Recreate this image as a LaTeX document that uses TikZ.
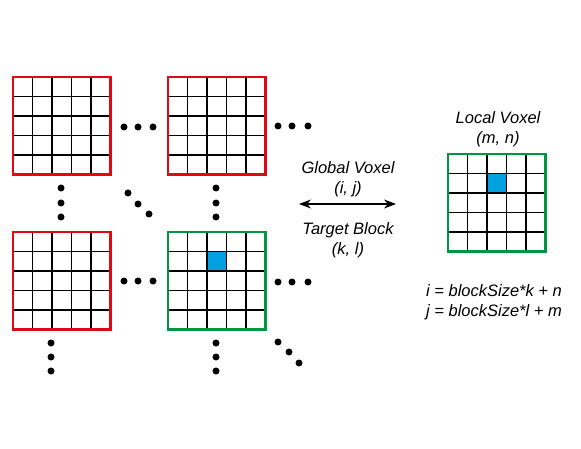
\documentclass[tikz,border=0pt]{standalone}
\usepackage{fontspec}
\setmainfont{Liberation Sans}
\usetikzlibrary{arrows.meta,calc}
\definecolor{blockred}{RGB}{227,6,19}
\definecolor{blockgreen}{RGB}{0,150,64}
\definecolor{voxelblue}{RGB}{0,160,227}

\begin{document}
\begin{tikzpicture}[x=1pt, y=-1pt,
    every node/.style={font=\fontsize{16.5}{20}\selectfont\itshape},
    gridline/.style={black, line width=1.1pt},
    block/.style={draw=#1, line width=2.2pt, rectangle, minimum size=97.5pt,
        inner sep=0pt, outer sep=0pt, anchor=north west,
        path picture={
            \foreach \k in {1,...,4} {
                \draw[gridline] ($(path picture bounding box.north west)!\k/5!(path picture bounding box.north east)$)
                    -- ($(path picture bounding box.south west)!\k/5!(path picture bounding box.south east)$);
                \draw[gridline] ($(path picture bounding box.north west)!\k/5!(path picture bounding box.south west)$)
                    -- ($(path picture bounding box.north east)!\k/5!(path picture bounding box.south east)$);
            }
        }},
    voxel/.style={draw=black, line width=1.1pt, fill=voxelblue, minimum size=19.5pt, inner sep=0pt}]

    \useasboundingbox (0,0) rectangle (581,449);

    % Global grid of blocks
    \node[block=blockred] (b11) at (13,77) {};
    \node[block=blockred] (b12) at (168,77) {};
    \node[block=blockred] (b21) at (13,232) {};
    \node[block=blockgreen] (b22) at (168,232) {};

    % Local block
    \node[block=blockgreen] (local) at (448,154) {};

    % Selected voxels
    \node[voxel] (target) at ($(b22.north west)+(48.75,29.25)$) {};
    \node[voxel] (localvox) at ($(local.north west)+(48.75,29.25)$) {};

    % Ellipsis dots
    \foreach \p in {(124,127),(138,127),(153,127),(278,126),(292,126),(308,126),
                    (124,281),(138,281),(153,281),(278,282),(292,282),(308,282),
                    (61,188),(61,203),(61,217),(216,188),(216,203),(216,217),
                    (128,193),(138,204),(149,214),
                    (51,343),(51,357),(51,371),(216,343),(216,357),(216,371),
                    (278,342),(289,352),(299,363)}
        \fill[black] \p circle[radius=3.5pt];

    % Labels
    \node[align=center] (localtxt) at (498,129) {Local Voxel\\(m, n)};
    \node[align=center] (globaltxt) at (348,179) {Global Voxel\\(i, j)};
    \node[align=center] (blocktxt) at (348,240) {Target Block\\(k, l)};
    \node[align=center] (eqtxt) at (494,302) {i = blockSize*k + n\\j = blockSize*l + m};

    % Mapping arrow
    \coordinate (arrL) at (299,204);
    \coordinate (arrR) at (396,204);
    \draw[{Stealth[length=12pt,width=9pt]}-{Stealth[length=12pt,width=9pt]}, line width=1.2pt] (arrL) -- (arrR);
\end{tikzpicture}
\end{document}
